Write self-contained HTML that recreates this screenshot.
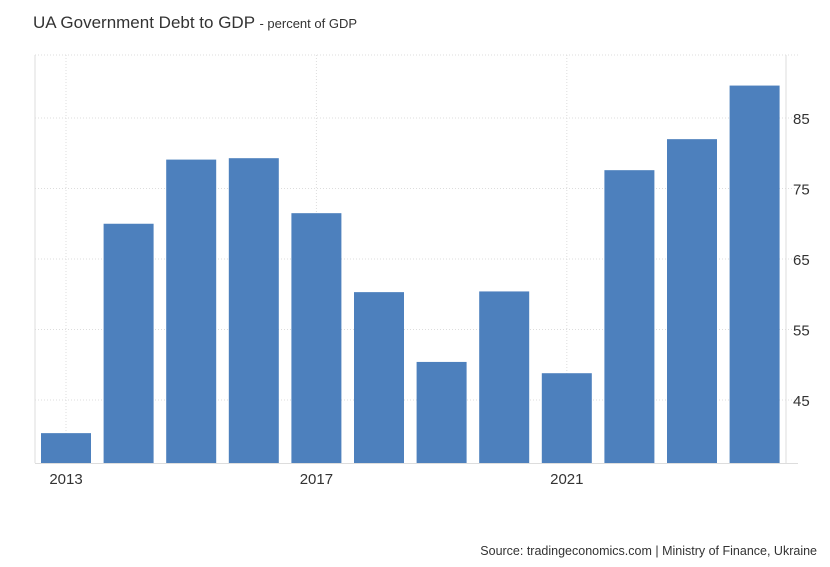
<!DOCTYPE html>
<html><head><meta charset="utf-8"><style>
body{margin:0;background:#fff;font-family:"Liberation Sans",sans-serif}
svg{display:block}
</style></head><body>
<svg width="830" height="567" id="c">
<text x="33" y="28" font-size="17" fill="#333">UA Government Debt to GDP <tspan font-size="13" fill="#333">- percent of GDP</tspan></text>
<text x="817" y="555" font-size="12.5" fill="#333" text-anchor="end">Source: tradingeconomics.com | Ministry of Finance, Ukraine</text>
<g id="grid"></g><g id="bars"></g><g id="axes"></g>
</svg>
<script>
const years=[2013,2014,2015,2016,2017,2018,2019,2020,2021,2022,2023,2024];
const values=[40.3,70.0,79.1,79.3,71.5,60.3,50.4,60.4,48.8,77.6,82.0,89.6];
const yTicks=[45,55,65,75,85];
const xTickYears=[2013,2017,2021];
const NS="http://www.w3.org/2000/svg";
const L=35,R=786,T=55,B=463;
const y=v=>400-(v-45)*7.05;
const step=62.6, x0=66;
const x=i=>x0+i*step;
function mk(t,a,p){const e=document.createElementNS(NS,t);for(const k in a)e.setAttribute(k,a[k]);p.appendChild(e);return e;}
const g=document.getElementById('grid'),bg=document.getElementById('bars'),ax=document.getElementById('axes');
let tl=mk('line',{x1:L,x2:798,y1:T,y2:T,stroke:'#ddd','stroke-dasharray':'1,2'},g);


yTicks.forEach(v=>{
 const l=mk('line',{x1:L,x2:798,y1:y(v),y2:y(v),stroke:'#ddd','stroke-dasharray':'1,2'},g);
 
 
 const t=mk('text',{x:793,y:y(v)+6,'font-size':15,fill:'#333'},ax);
 t.textContent=v;
 
 
});
xTickYears.forEach(yr=>{
 const i=years.indexOf(yr);
 const l=mk('line',{x1:x(i),x2:x(i),y1:T,y2:B,stroke:'#ddd','stroke-dasharray':'1,2'},g);
 
 
 const t=mk('text',{x:x(i),y:484,'font-size':15,fill:'#333','text-anchor':'middle'},ax);
 t.textContent=yr;
 
 
});
values.forEach((v,i)=>{
 const r=mk('rect',{x:x(i)-25,y:y(v),width:50,height:B-y(v),fill:'#4d80bd'},bg);
 
 
});
let lb=mk('line',{x1:L,x2:L,y1:T,y2:B,stroke:'#ddd'},ax);


let rb=mk('line',{x1:R,x2:R,y1:T,y2:B,stroke:'#ddd'},ax);


let bl=mk('line',{x1:L,x2:798,y1:B+0.5,y2:B+0.5,stroke:'#ddd'},ax);


</script>
</body></html>
